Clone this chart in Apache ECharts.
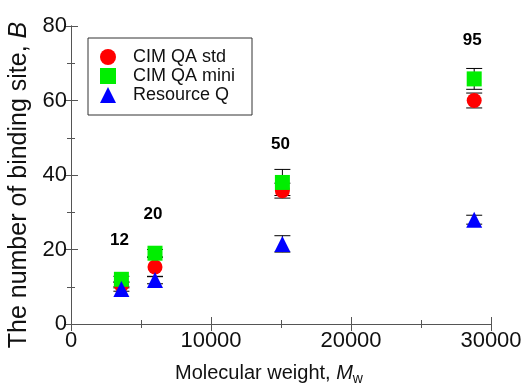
<!DOCTYPE html>
<html>
<head>
<meta charset="utf-8">
<script src="https://cdn.jsdelivr.net/npm/echarts@6/dist/echarts.min.js"></script>
<style>
  html, body { margin: 0; padding: 0; background: #fff; }
  #main { width: 528px; height: 386px; }
</style>
</head>
<body>
<div id="main"></div>
<script>
// molecular weight of each probe and the number labels above the groups
var mw = [3600, 6000, 15100, 28800];
var mwLabels = ['12', '20', '50', '95'];

// binding sites B and error half-widths per column
var stdB = [10.5, 15.3, 35.8, 60.0];
var stdErr = [0.8, 2.6, 2.0, 2.0];
var miniB = [12.0, 19.0, 38.0, 65.8];
var miniErr = [0.8, 1.0, 3.5, 2.8];
var rqB = [9.4, 11.8, 21.5, 28.0];
var rqErr = [0.6, 1.0, 2.2, 1.2];

var seriesNames = ['CIM QA std', 'CIM QA mini', 'Resource Q'];

var dom = document.getElementById('main');
var myChart = echarts.init(dom);
var font = "'Liberation Sans', Arial, sans-serif";
var axisColor = '#555';

function pts(ys) {
  return mw.map(function (x, i) { return [x, ys[i]]; });
}
function errPts(ys, es) {
  return mw.map(function (x, i) { return [x, ys[i], es[i]]; });
}

function errorBar(params, api) {
  var x = api.value(0), y = api.value(1), e = api.value(2);
  var top = api.coord([x, y + e]);
  var bot = api.coord([x, y - e]);
  var w = 8;
  var st = { stroke: '#000', lineWidth: 1 };
  return {
    type: 'group',
    children: [
      { type: 'line', shape: { x1: top[0], y1: top[1], x2: bot[0], y2: bot[1] }, style: st },
      { type: 'line', shape: { x1: top[0] - w, y1: top[1], x2: top[0] + w, y2: top[1] }, style: st },
      { type: 'line', shape: { x1: bot[0] - w, y1: bot[1], x2: bot[0] + w, y2: bot[1] }, style: st }
    ]
  };
}

function errSeries(ys, es) {
  return {
    type: 'custom',
    renderItem: errorBar,
    data: errPts(ys, es),
    z: 1,
    silent: true
  };
}

var xBase = {
  type: 'value',
  min: 0,
  max: 30000,
  interval: 10000,
  axisLine: { lineStyle: { color: axisColor, width: 1 } },
  axisTick: { inside: true, length: 7, lineStyle: { color: axisColor } },
  minorTick: { show: true, splitNumber: 2, length: 4, lineStyle: { color: axisColor } },
  splitLine: { show: false }
};
var yBase = {
  type: 'value',
  min: 0,
  max: 80,
  interval: 20,
  axisLine: { show: true, lineStyle: { color: axisColor, width: 1 } },
  axisTick: { show: true, inside: true, length: 7, lineStyle: { color: axisColor } },
  minorTick: { show: true, splitNumber: 2, length: 4, lineStyle: { color: axisColor } },
  splitLine: { show: false }
};

option = {
  backgroundColor: '#fff',
  animation: false,
  textStyle: { fontFamily: font },
  grid: { left: 71, right: 37, top: 26, bottom: 62, outerBoundsMode: 'none', containLabel: false },
  legend: {
    data: seriesNames,
    orient: 'vertical',
    left: 88,
    top: 38,
    itemWidth: 16,
    itemHeight: 16,
    itemGap: 1,
    padding: [10, 17, 11, 12],
    borderColor: '#333',
    borderWidth: 1,
    backgroundColor: '#fff',
    textStyle: { fontFamily: font, fontSize: 18, lineHeight: 17, color: '#111', padding: [0, 0, 0, 12] }
  },
  xAxis: [
    Object.assign({}, xBase, {
      position: 'bottom',
      name: '{n|Molecular weight, }{i|M}{s|w}',
      nameLocation: 'middle',
      nameGap: 36,
      nameTextStyle: {
        padding: [0, 24, 0, 0],
        rich: {
          n: { fontFamily: font, fontSize: 20, color: '#111' },
          i: { fontFamily: font, fontSize: 20, fontStyle: 'italic', color: '#111' },
          s: { fontFamily: font, fontSize: 14, color: '#111', padding: [12, 0, 0, 0] }
        }
      },
      axisLabel: {
        fontFamily: font, fontSize: 22, color: '#111', margin: 6,
        formatter: function (v) { return String(v); }
      }
    }),
    Object.assign({}, xBase, {
      position: 'top',
      axisLabel: { show: false }
    })
  ],
  yAxis: [
    Object.assign({}, yBase, {
      position: 'left',
      name: '{n|The number of binding site, }{i|B}',
      nameLocation: 'middle',
      nameGap: 39,
      nameTextStyle: {
        padding: [0, 20, 0, 0],
        rich: {
          n: { fontFamily: font, fontSize: 25, color: '#111' },
          i: { fontFamily: font, fontSize: 25, fontStyle: 'italic', color: '#111' }
        }
      },
      axisLabel: { fontFamily: font, fontSize: 22, color: '#111', margin: 4 }
    }),
    Object.assign({}, yBase, {
      position: 'right',
      axisLabel: { show: false }
    })
  ],
  series: [
    errSeries(stdB, stdErr),
    errSeries(miniB, miniErr),
    errSeries(rqB, rqErr),
    {
      name: seriesNames[0],
      type: 'scatter',
      symbol: 'circle',
      symbolSize: 15,
      itemStyle: { color: '#ff0000', opacity: 1 },
      data: pts(stdB),
      z: 2
    },
    {
      name: seriesNames[1],
      type: 'scatter',
      symbol: 'rect',
      symbolSize: 15,
      itemStyle: { color: '#00ee00', opacity: 1 },
      data: pts(miniB),
      z: 3
    },
    {
      name: seriesNames[2],
      type: 'scatter',
      symbol: 'triangle',
      symbolSize: 16,
      itemStyle: { color: '#0000ff', opacity: 1 },
      data: pts(rqB),
      z: 4
    },
    {
      type: 'scatter',
      symbolSize: 0,
      silent: true,
      itemStyle: { opacity: 1 },
      data: mw.map(function (x, i) { return [x, miniB[i], mwLabels[i]]; }),
      label: {
        show: true,
        position: 'top',
        distance: 30,
        offset: [-2, 0],
        formatter: function (p) { return p.value[2]; },
        fontFamily: font,
        fontSize: 17,
        fontWeight: 'bold',
        color: '#000',
        textBorderWidth: 0
      },
      z: 5
    }
  ]
};

myChart.setOption(option);
window.onresize = myChart.resize;
</script>
</body>
</html>
